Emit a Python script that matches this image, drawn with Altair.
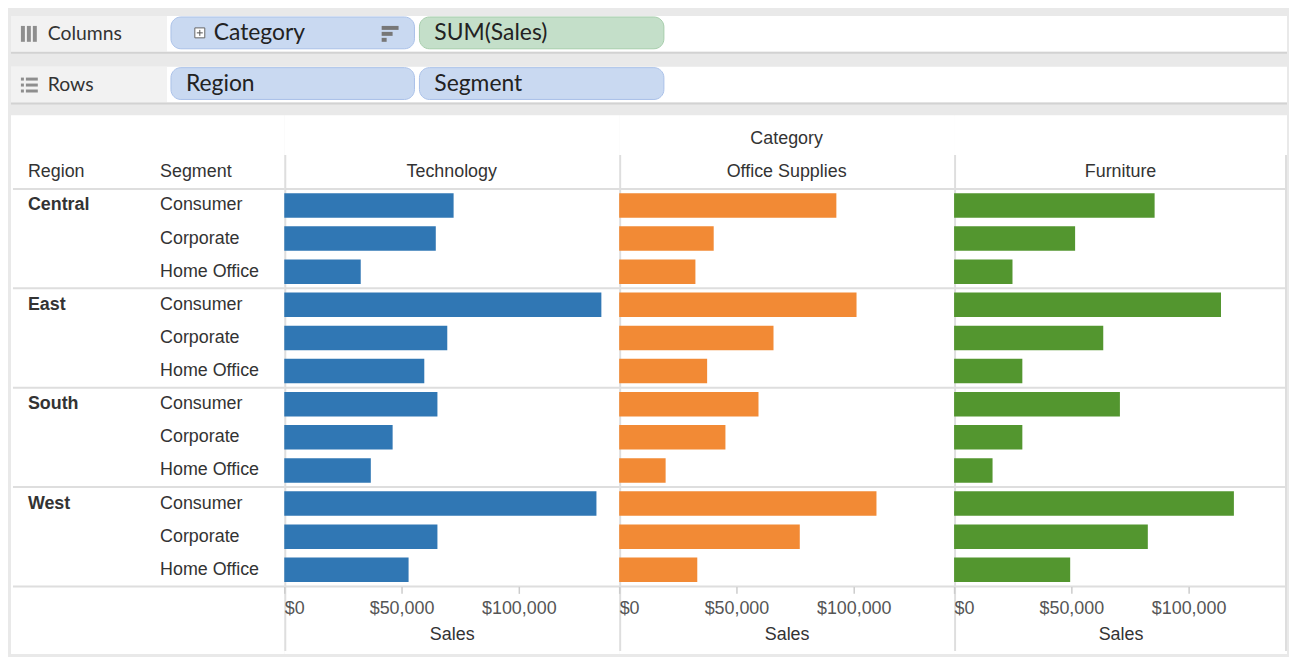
import altair as alt
import pandas as pd

# ------------------------------------------------------------------ data
regions = ["Central", "East", "South", "West"]
segments = ["Consumer", "Corporate", "Home Office"]
categories = ["Technology", "Office Supplies", "Furniture"]
category_colors = ["#3077b4", "#f28a35", "#53962f"]

# order: Central(Consumer, Corporate, Home Office), East(...), South(...), West(...)
technology_sales = [72200, 64600, 32600, 135200, 69500, 59700, 65300, 46200, 36900, 133100, 65300, 53000]
office_supplies_sales = [92600, 40300, 32500, 101200, 65800, 37500, 59400, 45300, 19800, 109700, 77000, 33300]
furniture_sales = [85500, 51600, 24900, 113800, 63600, 29100, 70700, 29100, 16400, 119300, 82600, 49500]
sales_by_category = [technology_sales, office_supplies_sales, furniture_sales]

tick_values = [0, 50000, 100000]
row_fields = ["Region", "Segment"]
column_field = "Category"
measure_label = "Sales"

shelf_names = ["Columns", "Rows"]
shelf_pills = [["Category", "SUM(Sales)"], ["Region", "Segment"]]
shelf_pill_kinds = [["dimension", "measure"], ["dimension", "dimension"]]

keys = [f"{r}|{s}" for r in regions for s in segments]

# ------------------------------------------------------------------ style / layout
FONT = "Liberation Sans"
SHELF_FONT = "Lato"
TEXT = "#333333"
LINE = "#dedede"
BG = "#e9e9e9"

TOTAL_W = 1286
LABEL_W = 277
PANEL_W = [337, 337, 335]
MAIN_H = 542
ROWS_TOP, ROWS_BOTTOM = 74, 474
PX_PER_50K = 118.0
SHELF_H = 105
HEADER_Y = 57
SUPER_Y = 24

yscale = alt.Scale(domain=keys, range=[ROWS_TOP, ROWS_BOTTOM], paddingInner=0.26, paddingOuter=0.13)
boundaries = [ROWS_TOP + i * (ROWS_BOTTOM - ROWS_TOP) / len(regions) for i in range(len(regions) + 1)]


def const():
    return alt.Chart(pd.DataFrame({"_": [0]}))


def hline(y, x0, x1, color=LINE, w=2):
    return const().mark_rule(color=color, strokeWidth=w).encode(
        x=alt.value(x0), x2=alt.value(x1), y=alt.value(y))


def vline(x, y0, y1, color=LINE, w=2):
    return const().mark_rule(color=color, strokeWidth=w).encode(
        x=alt.value(x), y=alt.value(y0), y2=alt.value(y1))


def rect(x0, x1, y0, y1, fill, stroke=None, radius=0, sw=1):
    kw = dict(fill=fill, cornerRadius=radius)
    if stroke is not None:
        kw["stroke"] = stroke
        kw["strokeWidth"] = sw
    return const().mark_rect(**kw).encode(
        x=alt.value(x0), x2=alt.value(x1), y=alt.value(y0), y2=alt.value(y1))


def label(text, x, y, size, font=FONT, color=TEXT, weight="normal", align="left"):
    return alt.Chart(pd.DataFrame({"label": [text]})).mark_text(
        font=font, fontSize=size, color=color, fontWeight=weight, align=align, baseline="middle"
    ).encode(x=alt.value(x), y=alt.value(y), text="label:N")


# ------------------------------------------------------------------ shelves
strip_tops = [5, 56]
strip_h = 36
pill_x = [(163, 408), (413, 659)]
pill_fill = {"dimension": "#c9d9f1", "measure": "#c4dfc9"}
pill_stroke = {"dimension": "#a9c1e8", "measure": "#a6cdab"}

shelf_layers = []
for si, name in enumerate(shelf_names):
    top = strip_tops[si]
    shelf_layers += [
        rect(2, TOTAL_W, top, top + strip_h, "#ffffff"),
        rect(2, 159, top, top + strip_h, "#f2f2f2"),
        hline(top + strip_h + 1, 2, TOTAL_W, "#d2d2d2", 2),
        label(name, 39, top + 18, 19.5, font=SHELF_FONT, color="#333333"),
    ]
    if si == 0:
        for bx in (12, 18, 24):
            shelf_layers.append(rect(bx, bx + 4, top + 10, top + 26, "#8e8e8e"))
    else:
        for by in (top + 11, top + 17, top + 23):
            shelf_layers.append(rect(12, 15, by, by + 3, "#8e8e8e"))
            shelf_layers.append(rect(17, 29, by, by + 3, "#8e8e8e"))
    for pi, pill in enumerate(shelf_pills[si]):
        kind = shelf_pill_kinds[si][pi]
        x0, x1 = pill_x[pi]
        shelf_layers.append(rect(x0, x1, top + 1, top + 33, pill_fill[kind], pill_stroke[kind], radius=10))
        tx = x0 + 15
        if si == 0 and pi == 0:
            tx = x0 + 43
            shelf_layers += [
                rect(x0 + 24, x0 + 34, top + 12, top + 22, "#ffffff", "#666666", 0, 1),
                hline(top + 17, x0 + 26, x0 + 32, "#555555", 1),
                vline(x0 + 29, top + 14, top + 20, "#555555", 1),
                rect(x1 - 33, x1 - 16, top + 10, top + 14, "#777777"),
                rect(x1 - 33, x1 - 22, top + 16, top + 20, "#777777"),
                rect(x1 - 33, x1 - 28, top + 22, top + 26, "#777777"),
            ]
        shelf_layers.append(label(pill, tx, top + 17, 23, font=SHELF_FONT, color="#222222"))

shelf_chart = alt.layer(*shelf_layers).properties(width=TOTAL_W, height=SHELF_H)

# ------------------------------------------------------------------ row labels
seg_df = pd.DataFrame({"key": keys, "Segment": [s for r in regions for s in segments]})
reg_df = pd.DataFrame({"key": [f"{r}|{segments[0]}" for r in regions], "Region": regions})

label_layers = [rect(2, LABEL_W, 0, MAIN_H, "#ffffff")]
label_layers += [hline(y, 4, LABEL_W) for y in boundaries]
label_layers += [
    label(row_fields[0], 19, HEADER_Y, 18),
    label(row_fields[1], 152, HEADER_Y, 18),
    alt.Chart(reg_df).mark_text(font=FONT, fontSize=18, fontWeight="bold", color=TEXT,
                                align="left", baseline="middle").encode(
        x=alt.value(19), y=alt.Y("key:N", scale=yscale, axis=None), text="Region:N"),
    alt.Chart(seg_df).mark_text(font=FONT, fontSize=18, color=TEXT,
                                align="left", baseline="middle").encode(
        x=alt.value(152), y=alt.Y("key:N", scale=yscale, axis=None), text="Segment:N"),
]
label_chart = alt.layer(*label_layers).properties(width=LABEL_W, height=MAIN_H)

# ------------------------------------------------------------------ panels
panels = []
for i, (cat, vals, col, w) in enumerate(zip(categories, sales_by_category, category_colors, PANEL_W)):
    xmax = w * 50000 / PX_PER_50K
    d = pd.DataFrame({"key": keys, "Category": cat, "Sales": vals})
    bars = alt.Chart(d).mark_bar(color=col).encode(
        x=alt.X("Sales:Q", scale=alt.Scale(domain=[0, xmax], nice=False, zero=True),
                axis=alt.Axis(values=tick_values, format="$,.0f", orient="bottom",
                              offset=-(MAIN_H - ROWS_BOTTOM), grid=False, domain=False,
                              tickColor="#cccccc", tickSize=7, tickWidth=1.5,
                              labelFont=FONT, labelFontSize=18, labelColor="#555555",
                              labelFlush=True, labelPadding=6, labelOverlap=False,
                              title=measure_label, titleFont=FONT, titleFontSize=18,
                              titleFontWeight="normal", titleColor=TEXT, titlePadding=8,
                              zindex=1)),
        y=alt.Y("key:N", scale=yscale, axis=None),
        tooltip=["key:N", "Sales:Q"],
    )
    header = alt.Chart(pd.DataFrame({"Category": [cat]})).mark_text(
        font=FONT, fontSize=18, color=TEXT, align="center", baseline="middle"
    ).encode(x=alt.value(w / 2), y=alt.value(HEADER_Y), text="Category:N")
    layers = [rect(0, w, 0, MAIN_H, "#ffffff")]
    layers += [hline(y, 0, w) for y in boundaries]
    layers.append(vline(1, 40, MAIN_H - 3))
    if i == len(categories) - 1:
        layers.append(vline(w - 1, 40, MAIN_H - 3))
    layers += [bars, header]
    if i == 1:
        layers.append(label(column_field, w / 2, SUPER_Y, 18, align="center"))
    panels.append(alt.layer(*layers).properties(width=w, height=MAIN_H))

main = alt.hconcat(label_chart, *panels, spacing=0, bounds="flush")

chart = alt.vconcat(shelf_chart, main, spacing=0, bounds="flush").properties(
    padding=0, background=BG
).configure_view(stroke="transparent")

chart.save("out.html", embed_options={"renderer": "svg", "actions": False})
